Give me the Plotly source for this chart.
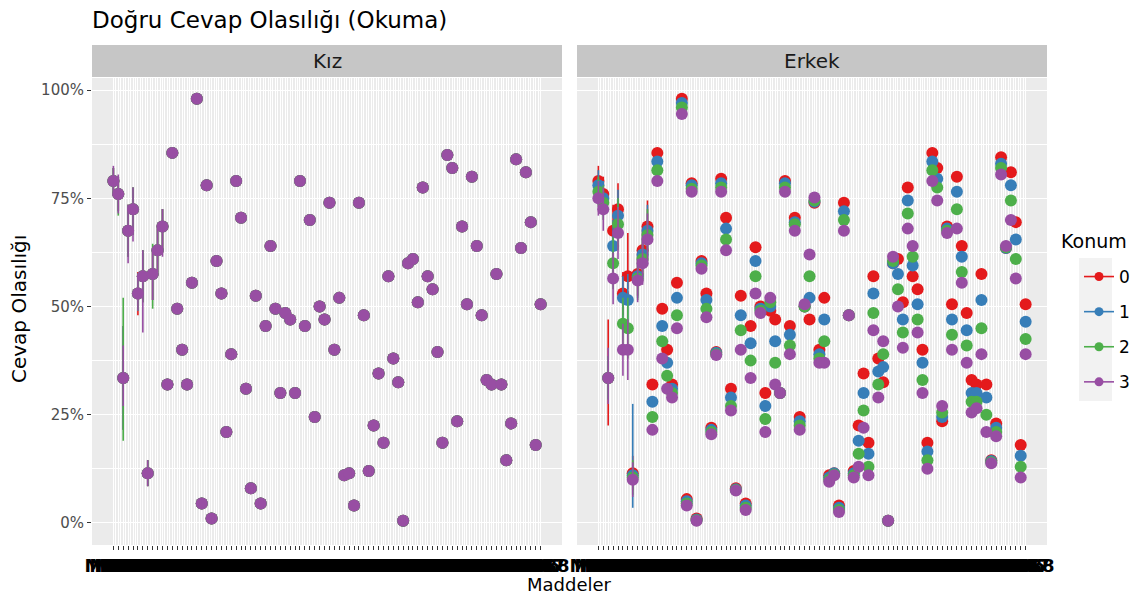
import plotly.graph_objects as go

# ---------------- data ----------------
items = list(range(1, 89))
item_labels = [f"MD{i:02d}" for i in items]
konum = ["0", "1", "2", "3"]
colors = ["#E41A1C", "#377EB8", "#4DAF4A", "#984EA3"]

kiz_base = [0.79, 0.76, 0.335, 0.675, 0.725, 0.53, 0.57, 0.115, 0.575, 0.63,
            0.685, 0.32, 0.855, 0.495, 0.40, 0.32, 0.555, 0.98, 0.045, 0.78,
            0.01, 0.605, 0.53, 0.21, 0.39, 0.79, 0.705, 0.31, 0.08, 0.525,
            0.045, 0.455, 0.64, 0.495, 0.30, 0.485, 0.47, 0.30, 0.79, 0.455,
            0.70, 0.245, 0.50, 0.47, 0.74, 0.40, 0.52, 0.11, 0.115, 0.04,
            0.74, 0.48, 0.12, 0.225, 0.345, 0.185, 0.57, 0.38, 0.325, 0.005,
            0.60, 0.61, 0.51, 0.775, 0.57, 0.54, 0.395, 0.185, 0.85, 0.82,
            0.235, 0.685, 0.505, 0.80, 0.64, 0.48, 0.33, 0.32, 0.575, 0.32,
            0.145, 0.23, 0.84, 0.635, 0.81, 0.695, 0.18, 0.505]

erkek_k0 = [0.79, 0.76, 0.335, 0.675, 0.725, 0.53, 0.57, 0.115, 0.575, 0.63,
            0.685, 0.32, 0.855, 0.495, 0.40, 0.32, 0.555, 0.98, 0.055, 0.785,
            0.01, 0.605, 0.53, 0.22, 0.395, 0.795, 0.705, 0.31, 0.08, 0.525,
            0.045, 0.455, 0.637, 0.50, 0.30, 0.49, 0.47, 0.30, 0.79, 0.455,
            0.705, 0.245, 0.50, 0.47, 0.74, 0.40, 0.52, 0.11, 0.115, 0.04,
            0.74, 0.48, 0.12, 0.225, 0.345, 0.185, 0.57, 0.38, 0.325, 0.005,
            0.60, 0.61, 0.51, 0.775, 0.57, 0.54, 0.40, 0.185, 0.855, 0.82,
            0.235, 0.685, 0.505, 0.80, 0.64, 0.485, 0.33, 0.32, 0.575, 0.32,
            0.145, 0.23, 0.845, 0.635, 0.81, 0.695, 0.18, 0.505]
erkek_k1 = [0.78, 0.75, 0.335, 0.64, 0.71, 0.52, 0.515, 0.11, 0.57, 0.62,
            0.675, 0.28, 0.835, 0.455, 0.37, 0.31, 0.52, 0.97, 0.05, 0.78,
            0.008, 0.60, 0.515, 0.215, 0.393, 0.785, 0.68, 0.29, 0.078, 0.48,
            0.04, 0.415, 0.605, 0.495, 0.27, 0.50, 0.42, 0.30, 0.785, 0.435,
            0.695, 0.235, 0.50, 0.52, 0.742, 0.39, 0.47, 0.105, 0.115, 0.035,
            0.72, 0.48, 0.115, 0.19, 0.30, 0.16, 0.53, 0.35, 0.36, 0.005,
            0.60, 0.575, 0.47, 0.745, 0.595, 0.505, 0.37, 0.165, 0.835, 0.795,
            0.245, 0.68, 0.47, 0.765, 0.615, 0.445, 0.30, 0.30, 0.515, 0.29,
            0.143, 0.22, 0.83, 0.635, 0.78, 0.655, 0.155, 0.465]
erkek_k2 = [0.765, 0.74, 0.335, 0.60, 0.69, 0.46, 0.45, 0.105, 0.565, 0.61,
            0.665, 0.245, 0.815, 0.42, 0.34, 0.30, 0.48, 0.96, 0.045, 0.772,
            0.006, 0.595, 0.495, 0.21, 0.39, 0.775, 0.655, 0.27, 0.076, 0.445,
            0.035, 0.375, 0.57, 0.49, 0.24, 0.51, 0.37, 0.30, 0.775, 0.41,
            0.69, 0.225, 0.50, 0.57, 0.745, 0.38, 0.42, 0.10, 0.112, 0.03,
            0.70, 0.48, 0.11, 0.16, 0.26, 0.13, 0.485, 0.32, 0.39, 0.005,
            0.605, 0.54, 0.44, 0.715, 0.615, 0.47, 0.33, 0.145, 0.815, 0.775,
            0.255, 0.675, 0.435, 0.725, 0.58, 0.41, 0.28, 0.28, 0.45, 0.25,
            0.14, 0.21, 0.82, 0.637, 0.745, 0.61, 0.13, 0.425]
erkek_k3 = [0.75, 0.725, 0.335, 0.565, 0.67, 0.40, 0.40, 0.10, 0.56, 0.60,
            0.655, 0.215, 0.79, 0.38, 0.31, 0.29, 0.45, 0.945, 0.04, 0.765,
            0.005, 0.587, 0.475, 0.205, 0.388, 0.765, 0.63, 0.26, 0.075, 0.40,
            0.03, 0.335, 0.53, 0.485, 0.21, 0.52, 0.32, 0.30, 0.765, 0.39,
            0.675, 0.215, 0.505, 0.62, 0.752, 0.37, 0.37, 0.095, 0.11, 0.025,
            0.675, 0.48, 0.105, 0.13, 0.22, 0.11, 0.445, 0.29, 0.42, 0.005,
            0.615, 0.50, 0.405, 0.68, 0.64, 0.44, 0.30, 0.125, 0.79, 0.745,
            0.27, 0.67, 0.40, 0.68, 0.555, 0.37, 0.255, 0.265, 0.39, 0.21,
            0.138, 0.20, 0.805, 0.64, 0.70, 0.565, 0.105, 0.39]
erkek_vals = [erkek_k0, erkek_k1, erkek_k2, erkek_k3]

# interval half-widths (minus, plus) per konum for items with visible intervals
default_ci = (0.012, 0.012)
kiz_ci = {
    1: [(0.03, 0.03), (0.03, 0.03), (0.03, 0.03), (0.035, 0.035)],
    2: [(0.04, 0.04), (0.04, 0.04), (0.05, 0.04), (0.045, 0.045)],
    3: [(0.12, 0.12), (0.12, 0.12), (0.145, 0.185), (0.065, 0.075)],
    4: [(0.06, 0.06), (0.06, 0.06), (0.06, 0.06), (0.075, 0.06)],
    5: [(0.06, 0.05), (0.06, 0.05), (0.06, 0.05), (0.075, 0.05)],
    6: [(0.05, 0.05), (0.04, 0.04), (0.04, 0.04), (0.04, 0.04)],
    7: [(0.06, 0.06), (0.06, 0.06), (0.06, 0.06), (0.13, 0.06)],
    8: [(0.03, 0.03), (0.03, 0.03), (0.03, 0.03), (0.03, 0.03)],
    9: [(0.06, 0.06), (0.06, 0.06), (0.08, 0.07), (0.06, 0.06)],
    10: [(0.05, 0.05), (0.05, 0.05), (0.05, 0.05), (0.05, 0.05)],
    11: [(0.06, 0.04), (0.06, 0.04), (0.06, 0.04), (0.07, 0.04)],
}
erkek_ci = {
    1: [(0.035, 0.035), (0.035, 0.035), (0.035, 0.035), (0.04, 0.04)],
    2: [(0.04, 0.04), (0.04, 0.04), (0.04, 0.04), (0.05, 0.05)],
    3: [(0.11, 0.135), (0.05, 0.05), (0.05, 0.05), (0.06, 0.07)],
    4: [(0.06, 0.06), (0.06, 0.06), (0.06, 0.06), (0.06, 0.06)],
    5: [(0.06, 0.06), (0.06, 0.06), (0.06, 0.06), (0.06, 0.06)],
    6: [(0.05, 0.05), (0.05, 0.05), (0.06, 0.06), (0.06, 0.06)],
    7: [(0.03, 0.10), (0.06, 0.06), (0.07, 0.07), (0.07, 0.07)],
    8: [(0.04, 0.04), (0.075, 0.165), (0.04, 0.04), (0.04, 0.04)],
    9: [(0.05, 0.05), (0.05, 0.05), (0.05, 0.05), (0.05, 0.05)],
    10: [(0.05, 0.05), (0.05, 0.05), (0.05, 0.05), (0.05, 0.05)],
    11: [(0.06, 0.06), (0.06, 0.06), (0.06, 0.06), (0.06, 0.06)],
}

# ---------------- figure ----------------
W, H = 1139, 601
FONT = "DejaVu Sans"


def px(x):
    return x / W


def py(y):
    return 1 - y / H


fig = go.Figure()

panels = [("x", "y", [kiz_base] * 4, kiz_ci), ("x2", "y2", erkek_vals, erkek_ci)]
for xa, ya, vals, ci in panels:
    for k in range(4):
        minus = [ci.get(i, [default_ci] * 4)[k][0] for i in items]
        plus = [ci.get(i, [default_ci] * 4)[k][1] for i in items]
        fig.add_trace(go.Scatter(
            x=items, y=vals[k], mode="markers", xaxis=xa, yaxis=ya,
            marker=dict(size=12, color=colors[k]),
            error_y=dict(type="data", symmetric=False, array=plus, arrayminus=minus,
                         color=colors[k], thickness=1.6, width=0),
            showlegend=False, hoverinfo="skip"))

# legend entries (line + point keys like ggplot pointrange)
for k in range(4):
    fig.add_trace(go.Scatter(
        x=[None], y=[None], mode="lines+markers", name=konum[k],
        legendgroup=konum[k],
        line=dict(color=colors[k], width=1.6), marker=dict(size=9, color=colors[k])))

xrange = [1 - 0.05 * 87, 88 + 0.05 * 87]
yrange = [-0.051, 1.028]

xcommon = dict(range=xrange, tickmode="array", tickvals=items, ticktext=item_labels,
               tickangle=0, ticks="outside", ticklen=4, tickcolor="#333333",
               tickfont=dict(size=18, color="#000000", family=FONT, weight="bold"),
               showgrid=True, gridcolor="white", gridwidth=1.1, zeroline=False,
               showline=False, automargin=False,
               minor=dict(tickvals=[i + 0.5 for i in items[:-1]], showgrid=True,
                          gridcolor="white", gridwidth=0.5, ticks=""))
ycommon = dict(range=yrange, tickmode="array", tickvals=[0, 0.25, 0.5, 0.75, 1.0],
               showgrid=True, gridcolor="white", gridwidth=1.1, zeroline=False,
               showline=False, automargin=False,
               minor=dict(tickvals=[0.125, 0.375, 0.625, 0.875], showgrid=True,
                          gridcolor="white", gridwidth=0.5, ticks=""),
               domain=[py(545), py(78)])

fig.update_layout(
    width=W, height=H, margin=dict(l=0, r=0, t=0, b=0, autoexpand=False),
    paper_bgcolor="white", plot_bgcolor="#EBEBEB",
    font=dict(family=FONT, color="#1A1A1A"),
    xaxis=dict(domain=[px(92), px(562)], anchor="y", **xcommon),
    xaxis2=dict(domain=[px(577), px(1047)], anchor="y2", **xcommon),
    yaxis=dict(anchor="x", ticktext=["0%", "25%", "50%", "75%", "100%"],
               ticks="outside", ticklen=4, tickcolor="#333333",
               tickfont=dict(size=15, color="#4D4D4D", family=FONT), **ycommon),
    yaxis2=dict(anchor="x2", matches="y", showticklabels=False, ticks="", **ycommon),
    showlegend=True,
    legend=dict(x=px(1079), y=py(259), xanchor="left", yanchor="top",
                font=dict(size=17, color="#000000", family=FONT), tracegroupgap=10,
                bgcolor="rgba(0,0,0,0)", itemwidth=30),
)

shapes = []
annotations = []
for (x0, x1, label) in [(92, 562, "Kız"), (577, 1047, "Erkek")]:
    shapes.append(dict(type="rect", xref="paper", yref="paper", x0=px(x0), x1=px(x1),
                       y0=py(77), y1=py(45), fillcolor="#C6C6C6", line=dict(width=0),
                       layer="below"))
    annotations.append(dict(text=label, xref="paper", yref="paper", x=px((x0 + x1) / 2),
                            y=py(61), showarrow=False, xanchor="center", yanchor="middle",
                            font=dict(size=20, color="#1A1A1A", family=FONT)))
# grey key background of the legend
shapes.append(dict(type="rect", xref="paper", yref="paper", x0=px(1079), x1=px(1112),
                   y0=py(401), y1=py(258), fillcolor="#F2F2F2", line=dict(width=0),
                   layer="below"))
annotations.append(dict(text="Doğru Cevap Olasılığı (Okuma)", xref="paper", yref="paper",
                        x=px(90), y=py(20), showarrow=False, xanchor="left",
                        yanchor="middle", font=dict(size=23, color="#000000", family=FONT)))
annotations.append(dict(text="Cevap Olasılığı", xref="paper", yref="paper",
                        x=px(19), y=py(309), showarrow=False, textangle=-90,
                        xanchor="center", yanchor="middle",
                        font=dict(size=20, color="#000000", family=FONT)))
annotations.append(dict(text="Maddeler", xref="paper", yref="paper",
                        x=px(569), y=py(584), showarrow=False, xanchor="center",
                        yanchor="middle", font=dict(size=18, color="#000000", family=FONT)))
annotations.append(dict(text="Konum", xref="paper", yref="paper",
                        x=px(1059), y=py(241), showarrow=False, xanchor="left",
                        yanchor="middle", font=dict(size=19, color="#000000", family=FONT)))
fig.update_layout(shapes=shapes, annotations=annotations)

fig.write_html("out.html")
